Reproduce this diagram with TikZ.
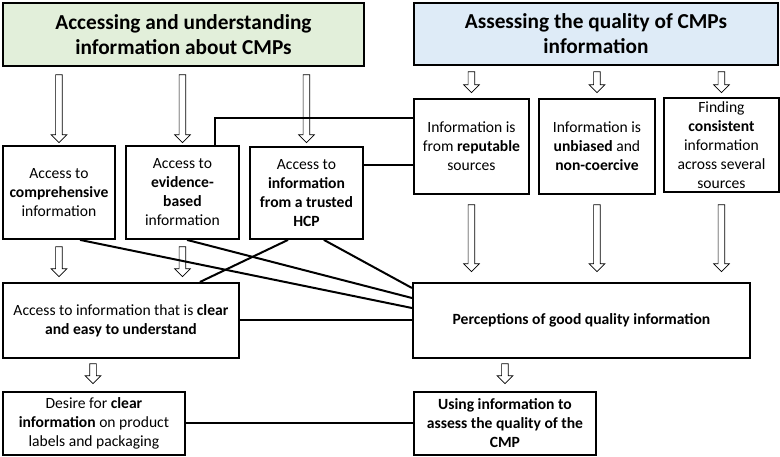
\documentclass[tikz,border=0pt]{standalone}
\usepackage{fontspec}
\setmainfont{Carlito}
\usetikzlibrary{shapes.arrows}
\definecolor{titlegreen}{RGB}{226,239,218}
\definecolor{titleblue}{RGB}{222,235,247}

\begin{document}
\begin{tikzpicture}[x=1pt, y=-1pt,
    box/.style={draw, line width=1.9pt, anchor=north west, align=center, inner sep=2pt,
      font=\fontsize{15.6}{19}\selectfont},
    titlebox/.style={box, font=\fontsize{21.3}{25}\selectfont\bfseries},
    link/.style={line width=2pt},
    hollow/.style={single arrow, draw, line width=0.7pt, fill=white, shape border rotate=270,
      minimum width=15pt, single arrow head extend=4.5pt, inner sep=3pt}]

    \useasboundingbox (0,0) rectangle (780,456);

    % Cajas de título
    \node[titlebox, fill=titlegreen, minimum width=361pt, minimum height=63pt] (access) at (2,2)
      {Accessing and understanding\\information about CMPs};
    \node[titlebox, fill=titleblue, minimum width=364pt, minimum height=62pt] (assess) at (413,2)
      {Assessing the quality of CMPs\\information};

    % Primera fila, izquierda
    \node[box, minimum width=112pt, minimum height=93pt] (comp) at (2,145)
      {Access to\\\textbf{comprehensive}\\information};
    \node[box, minimum width=113pt, minimum height=93pt] (evid) at (125,145)
      {Access to\\\textbf{evidence-}\\\textbf{based}\\information};
    \node[box, minimum width=113pt, minimum height=92pt] (hcp) at (249,146)
      {Access to\\\textbf{information}\\\textbf{from a trusted}\\\textbf{HCP}};

    % Primera fila, derecha
    \node[box, minimum width=115pt, minimum height=95pt] (rep) at (413,98)
      {Information is\\from \textbf{reputable}\\sources};
    \node[box, minimum width=116pt, minimum height=95pt] (unb) at (538,98)
      {Information is\\\textbf{unbiased} and\\\textbf{non-coercive}};
    \node[box, minimum width=115pt, minimum height=94pt] (cons) at (663,97)
      {Finding\\\textbf{consistent}\\information\\across several\\sources};

    % Segunda fila
    \node[box, minimum width=236pt, minimum height=75pt] (clear) at (2,282)
      {Access to information that is \textbf{clear}\\\textbf{and easy to understand}};
    \node[box, minimum width=337pt, minimum height=75pt] (perc) at (412,282)
      {\textbf{Perceptions of good quality information}};

    % Tercera fila
    \node[box, minimum width=182pt, minimum height=63pt] (desire) at (2,391)
      {Desire for \textbf{clear}\\\textbf{information} on product\\labels and packaging};
    \node[box, minimum width=182pt, minimum height=63pt] (using) at (413,391)
      {\textbf{Using information to}\\\textbf{assess the quality of the}\\\textbf{CMP}};

    % Flechas huecas
    \foreach \b in {comp,evid,hcp}
      \node[hollow, minimum height=68pt] (in\b) at (\b.north |- 0,107) {};
    \foreach \b in {rep,unb,cons}
      \node[hollow, minimum height=21pt] (in\b) at (\b.north |- 0,80.5) {};
    \foreach \b in {rep,unb,cons}
      \node[hollow, minimum height=67pt] (out\b) at (\b.south |- 0,236.5) {};
    \foreach \b in {comp,evid}
      \node[hollow, minimum height=30pt] (out\b) at (\b.south |- 0,260) {};
    \node[hollow, minimum height=20pt] (outclear) at (93,372) {};
    \node[hollow, minimum height=20pt] (outperc) at (using.north |- 0,372) {};

    % Líneas de conexión
    \draw[link] ([xshift=-25pt]evid.north east) |- ([yshift=-20pt]rep.north west);
    \coordinate (h) at ([yshift=-19pt]hcp.north east);
    \draw[link] (h) -- (h -| rep.west);
    \draw[link] ([xshift=78pt]comp.south west) -- ([yshift=-26pt]perc.north west);
    \draw[link] ([xshift=62pt]evid.south west) -- ([yshift=-16pt]perc.north west);
    \draw[link] ([xshift=-40pt]hcp.south east) -- ([yshift=-6pt]perc.north west);
    \draw[link] ([xshift=39pt]hcp.south west) -- ([xshift=-40pt]clear.north east);
    \draw[link] (clear.east) -- (perc.west);
    \draw[link] (desire.east) -- (using.west);
  \end{tikzpicture}
\end{document}
